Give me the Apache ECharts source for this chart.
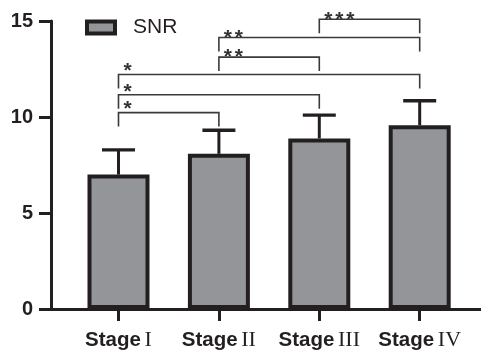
<!DOCTYPE html>
<html>
<head>
<meta charset="utf-8">
<script src="https://cdn.jsdelivr.net/npm/echarts@6/dist/echarts.min.js"></script>
<style>html,body{margin:0;padding:0;background:#fff}#c{width:481px;height:351px}</style>
</head>
<body>
<div id="c"></div>
<script>
var categories = ['I', 'II', 'III', 'IV'];
var snrMean = [7.0, 8.08, 8.88, 9.57];
var snrErrTop = [8.29, 9.31, 10.1, 10.85];
var yTicks = [0, 5, 10, 15];
var bracketFrom = [0, 0, 0, 1, 1, 2];
var bracketTo = [1, 2, 3, 2, 3, 3];
var bracketLevel = [10.23, 11.16, 12.21, 13.12, 14.14, 15.09];
var bracketStars = ['*', '*', '*', '**', '**', '***'];

var DARK = '#231f20';
var FONT = '"Liberation Sans", Arial, Helvetica, sans-serif';

var chart = echarts.init(document.getElementById('c'), null, {renderer: 'canvas'});

var barData = categories.map(function (c, i) { return [i, snrMean[i]]; });
var errData = categories.map(function (c, i) { return [i, snrMean[i], snrErrTop[i]]; });
var brData = bracketFrom.map(function (f, i) { return [f, bracketTo[i], bracketLevel[i]]; });

var option = {
  animation: false,
  backgroundColor: '#fff',
  grid: {left: 51, right: 0, top: 21, bottom: 40, containLabel: false},
  legend: {
    data: ['SNR'], left: 80, top: 12, itemWidth: 28, itemHeight: 12, icon: 'rect',
    itemStyle: {color: '#939598', borderColor: DARK, borderWidth: 4},
    textStyle: {fontSize: 21, color: DARK, fontFamily: FONT, padding: [0, 0, 0, 13]}
  },
  xAxis: {
    type: 'value', min: -0.6723, max: 3.6106,
    splitLine: {show: false},
    axisLine: {show: true, onZero: false, lineStyle: {color: DARK, width: 3}},
    axisTick: {show: true, customValues: [0, 1, 2, 3], length: 12, lineStyle: {color: DARK, width: 3}},
    axisLabel: {
      customValues: [0, 1, 2, 3], margin: 20,
      formatter: function (v) { return '{a|Stage}{s| }{b|' + categories[Math.round(v)] + '}'; },
      rich: {
        a: {fontSize: 20.5, fontWeight: 'bold', color: DARK, fontFamily: FONT},
        s: {fontSize: 13, color: DARK, fontFamily: FONT},
        b: {fontSize: 22, color: DARK, fontFamily: '"Liberation Serif", "Times New Roman", serif'}
      }
    }
  },
  yAxis: {
    type: 'value', min: 0, max: 15, interval: 5,
    splitLine: {show: false},
    axisLine: {show: true, onZero: false, lineStyle: {color: DARK, width: 3}},
    axisTick: {show: true, length: 12, lineStyle: {color: DARK, width: 3}},
    axisLabel: {
      margin: 18, fontSize: 20, fontWeight: 'bold', color: DARK, fontFamily: FONT,
      customValues: yTicks
    }
  },
  series: [
    {
      name: 'SNR', type: 'bar', data: barData, barWidth: 62,
      itemStyle: {color: '#939598', borderColor: DARK, borderWidth: 4},
      z: 2
    },
    {
      name: 'err', type: 'custom', data: errData, z: 3,
      encode: {x: 0, y: [1, 2]},
      renderItem: function (params, api) {
        var p0 = api.coord([api.value(0), api.value(1)]);
        var p1 = api.coord([api.value(0), api.value(2)]);
        return {type: 'group', children: [
          {type: 'line', shape: {x1: p0[0], y1: p0[1], x2: p1[0], y2: p1[1]}, style: {stroke: DARK, lineWidth: 3}},
          {type: 'line', shape: {x1: p1[0] - 16.5, y1: p1[1], x2: p1[0] + 16.5, y2: p1[1]}, style: {stroke: DARK, lineWidth: 3.4}}
        ]};
      }
    },
    {
      name: 'sig', type: 'custom', data: brData, z: 4, clip: false,
      encode: {x: [0, 1], y: 2},
      renderItem: function (params, api) {
        var a = api.coord([api.value(0), api.value(2)]);
        var b = api.coord([api.value(1), api.value(2)]);
        var leg = 14;
        var st = {stroke: '#3a3a3a', lineWidth: 1.6, fill: null};
        var children = [
          {type: 'polyline', shape: {points: [[a[0], a[1] + leg], [a[0], a[1]], [b[0], b[1]], [b[0], b[1] + leg]]}, style: st}
        ];
        var s = bracketStars[params.dataIndex];
        var dy = s.length === 1 ? 9 : 5.5;
        for (var k = 0; k < s.length; k++) {
          children.push({type: 'text', style: {
            text: '*', x: a[0] + 9 + k * 11, y: a[1] - dy + 6, align: 'center', verticalAlign: 'middle',
            fontSize: 21, fontWeight: 'bold', fill: '#333', fontFamily: FONT
          }});
        }
        return {type: 'group', children: children};
      }
    }
  ]
};
chart.setOption(option);
</script>
</body>
</html>
